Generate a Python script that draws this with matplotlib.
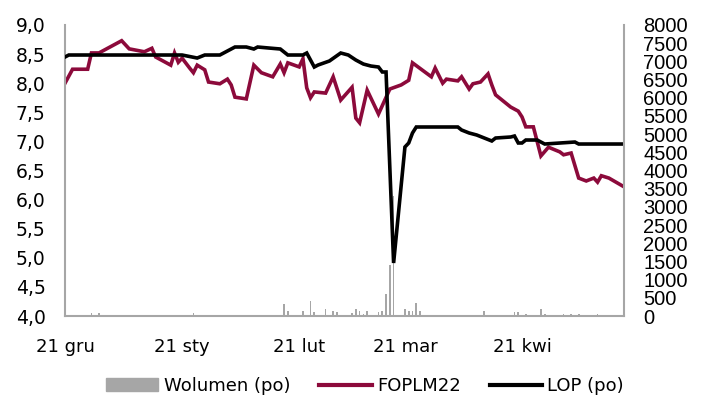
import numpy as np
import pandas as pd
import matplotlib
matplotlib.use("Agg")
import matplotlib.pyplot as plt
from matplotlib.patches import Patch
from matplotlib.lines import Line2D

start = pd.Timestamp("2021-12-21")

# FOPLM22 (left axis), days counted from 21 Dec 2021
fut_days = [0, 2, 6, 7, 9, 15, 17, 21, 23, 24, 28, 29, 30, 31, 33, 34, 35, 37, 38, 41,
            43, 44, 45, 48, 50, 52, 55, 57, 58, 59, 62, 63, 64, 65, 66, 69, 71, 73, 76, 77,
            78, 80, 83, 86, 89, 91, 92, 97, 98, 100, 101, 104, 105, 107, 108, 110, 112, 113, 114, 118,
            120, 121, 122, 124, 126, 128, 131, 132, 134, 136, 138, 140, 141, 142, 144, 148]
fut_vals = [8.00, 8.24, 8.24, 8.52, 8.52, 8.73, 8.59, 8.54, 8.60, 8.45, 8.31, 8.52, 8.36, 8.43, 8.26, 8.18, 8.31, 8.23, 8.02, 7.99,
            8.07, 7.97, 7.76, 7.73, 8.31, 8.18, 8.11, 8.33, 8.18, 8.35, 8.28, 8.42, 7.92, 7.75, 7.85, 7.83, 8.11, 7.71, 7.93, 7.40,
            7.32, 7.88, 7.47, 7.90, 7.97, 8.05, 8.35, 8.11, 8.26, 8.00, 8.07, 8.04, 8.11, 7.90, 7.99, 8.02, 8.16, 7.97, 7.80, 7.59,
            7.52, 7.42, 7.25, 7.25, 6.75, 6.90, 6.82, 6.77, 6.80, 6.37, 6.32, 6.37, 6.30, 6.41, 6.37, 6.22]

# LOP (right axis)
lop_days = [0, 1, 31, 35, 37, 41, 45, 48, 50, 51, 54, 57, 59, 63, 64, 66, 67, 70, 73, 75,
            77, 79, 81, 83, 84, 85, 87, 90, 91, 92, 93, 104, 105, 107, 109, 113, 114, 118, 119, 120,
            121, 122, 125, 127, 135, 136, 148]
lop_vals = [7120, 7175, 7175, 7092, 7175, 7175, 7395, 7395, 7340, 7395, 7367, 7340, 7175, 7175, 7230, 6845, 6900, 7010, 7230, 7175,
            7037, 6927, 6872, 6845, 6708, 6708, 1457, 4646, 4756, 5031, 5196, 5196, 5113, 5031, 4976, 4811, 4893, 4921, 4948, 4756,
            4756, 4838, 4838, 4728, 4783, 4728, 4728]

# Wolumen (right axis)
vol_days = [7, 9, 34, 58, 59, 63, 65, 66, 69, 71, 72, 76, 77, 78, 79, 80, 83, 84, 85, 86,
            87, 90, 91, 92, 93, 94, 111, 119, 120, 122, 126, 127, 132, 134, 136, 141]
vol_vals = [80, 80, 80, 330, 140, 140, 410, 110, 190, 140, 110, 80, 190, 140, 60, 140, 110, 140, 600, 1400,
            3300, 190, 140, 140, 360, 140, 140, 110, 110, 60, 190, 60, 60, 60, 60, 60]

tick_dates = ["2021-12-21", "2022-01-21", "2022-02-21", "2022-03-21", "2022-04-21"]
tick_labels = ["21 gru", "21 sty", "21 lut", "21 mar", "21 kwi"]
left_ticks = np.arange(4.0, 9.01, 0.5)
right_ticks = np.arange(0, 8001, 500)


def to_dates(days):
    return start + pd.to_timedelta(days, unit="D")


red = "#8c0a3b"
grey = "#a6a6a6"

fig = plt.figure(figsize=(7.02, 4.05), dpi=100)
ax = fig.add_axes([65 / 702, 89 / 405, 559 / 702, 291 / 405])
ax2 = ax.twinx()

ax.plot(to_dates(fut_days), fut_vals, color=red, lw=2.6, solid_joinstyle="miter")
ax2.bar(to_dates(vol_days), vol_vals, width=0.45, color=grey)
ax2.plot(to_dates(lop_days), lop_vals, color="black", lw=2.6, solid_joinstyle="miter")

ax.set_xlim(start, start + pd.Timedelta(days=148))
ax.set_ylim(4, 9)
ax2.set_ylim(0, 8000)

ax.set_xticks(pd.to_datetime(tick_dates), tick_labels, fontsize=13)
ax.set_yticks(left_ticks, [f"{v:.1f}".replace(".", ",") for v in left_ticks], fontsize=13.5)
ax2.set_yticks(right_ticks, [str(v) for v in right_ticks], fontsize=14.5,
               family=["Liberation Sans", "DejaVu Sans"])

ax.tick_params(length=0, pad=14)
ax2.tick_params(length=0, pad=14)
ax.tick_params(axis="x", pad=16)

for a in (ax, ax2):
    a.spines["top"].set_visible(False)
    for s in a.spines.values():
        s.set_color(grey)
        s.set_linewidth(1.5)
ax2.spines["left"].set_visible(False)
ax2.spines["bottom"].set_visible(False)
ax.spines["right"].set_visible(False)

handles = [Patch(color=grey), Line2D([], [], color=red, lw=3), Line2D([], [], color="black", lw=3)]
labels = ["Wolumen (po)", "FOPLM22", "LOP (po)"]
fig.legend(handles, labels, loc="center", bbox_to_anchor=(0.52, 0.047), ncol=3,
           frameon=False, fontsize=13, handlelength=2.9, handletextpad=0.3, columnspacing=1.6)

fig.savefig("out.png", dpi=100)
